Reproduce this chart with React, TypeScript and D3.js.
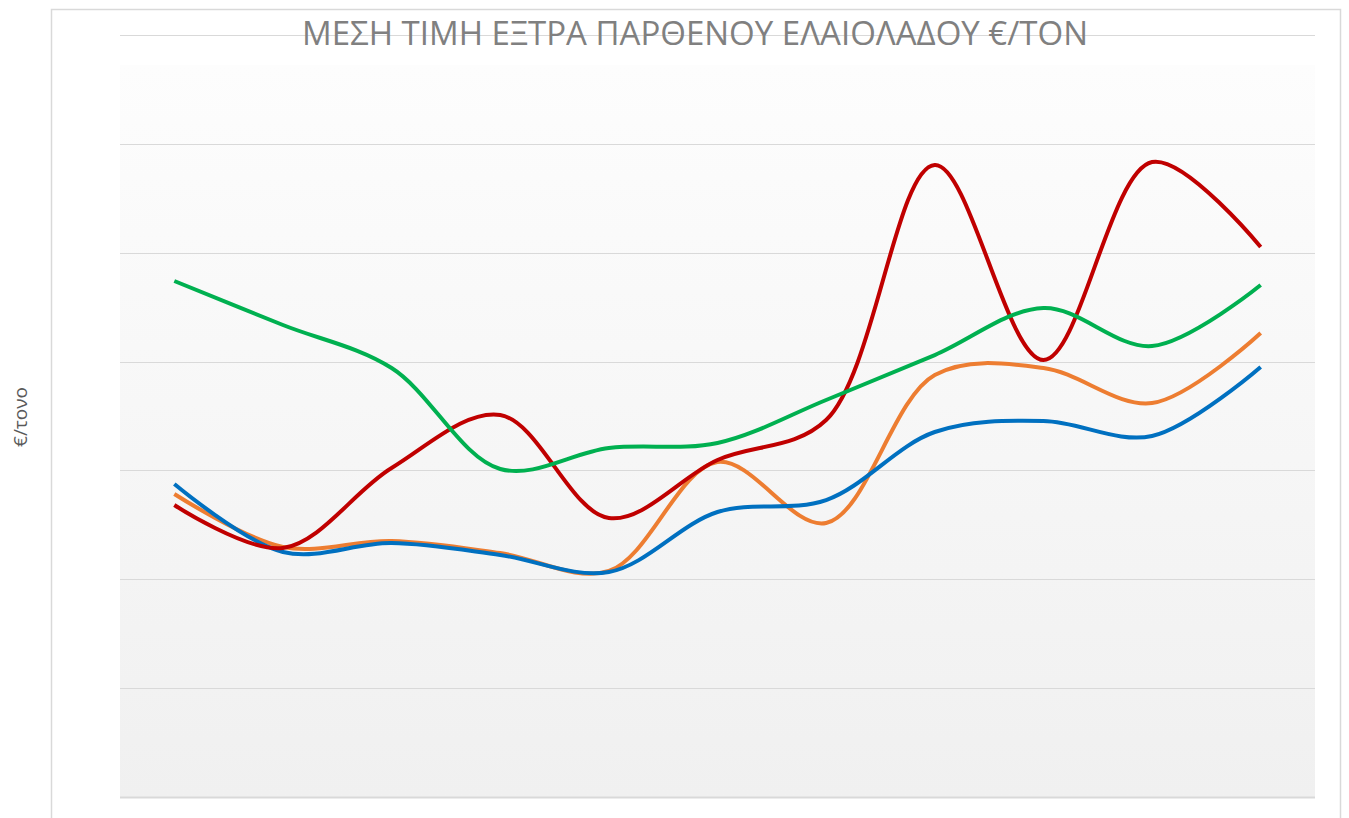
import React, { useRef, useEffect } from 'react';
import * as d3 from 'd3';

// 11 periods, no labels shown on the chart
const periods = ['1', '2', '3', '4', '5', '6', '7', '8', '9', '10', '11'];

// series values, €/τονο
const blueValues = [2875, 2251, 2333, 2223, 2067, 2618, 2728, 3353, 3454, 3316, 3950];
const orangeValues = [2783, 2297, 2352, 2241, 2076, 3077, 2517, 3877, 3941, 3619, 4262];
const redValues = [2682, 2287, 3022, 3509, 2563, 3096, 3463, 5806, 4014, 5833, 5052];
const greenValues = [4740, 4336, 3941, 3013, 3206, 3252, 3647, 4060, 4492, 4143, 4703];

const yTicks = [0, 1000, 2000, 3000, 4000, 5000, 6000, 7000];

const title = 'ΜΕΣΗ ΤΙΜΗ ΕΞΤΡΑ ΠΑΡΘΕΝΟΥ ΕΛΑΙΟΛΑΔΟΥ €/ΤΟΝ';
const yTitle = '€/τονο';

const w = 1349;
const h = 818;
const plot = { left: 120, right: 1315, top: 35, bottom: 797 };

const App = () => {
  const svgRef = useRef<SVGSVGElement>(null);

  useEffect(() => {
    const svg = d3.select(svgRef.current);
    svg.selectAll('*').remove();

    const defs = svg.append('defs');
    const grad = defs.append('linearGradient')
      .attr('id', 'bg')
      .attr('x1', 0).attr('y1', 0).attr('x2', 0).attr('y2', 1);
    grad.append('stop').attr('offset', '0%').attr('stop-color', '#fdfdfd');
    grad.append('stop').attr('offset', '100%').attr('stop-color', '#f0f0f0');

    // chart frame
    svg.append('rect')
      .attr('x', 51.5).attr('y', 9.5)
      .attr('width', 1289).attr('height', 830)
      .attr('fill', '#fff')
      .attr('stroke', '#d9d9d9')
      .attr('stroke-width', 1.5);

    const xScale = d3.scalePoint<string>()
      .domain(periods)
      .range([plot.left, plot.right])
      .padding(0.5);

    const yScale = d3.scaleLinear()
      .domain([0, 7000])
      .range([plot.bottom, plot.top]);

    // plot background
    svg.append('rect')
      .attr('x', plot.left).attr('y', 65)
      .attr('width', plot.right - plot.left)
      .attr('height', plot.bottom - 65)
      .attr('fill', 'url(#bg)');

    // gridlines
    svg.append('g')
      .selectAll('line')
      .data(yTicks)
      .enter()
      .append('line')
      .attr('x1', plot.left)
      .attr('x2', plot.right)
      .attr('y1', d => Math.round(yScale(d)) + 0.5)
      .attr('y2', d => Math.round(yScale(d)) + 0.5)
      .attr('stroke', '#d9d9d9')
      .attr('stroke-width', d => (d === 0 ? 2 : 1));

    const line = d3.line<number>()
      .x((d, i) => xScale(periods[i]) as number)
      .y(d => yScale(d))
      .curve(d3.curveCatmullRom.alpha(0.5));

    const series = [
      { values: orangeValues, color: '#ED7D31' },
      { values: blueValues, color: '#0070C0' },
      { values: redValues, color: '#C00000' },
      { values: greenValues, color: '#00B050' },
    ];

    svg.append('g')
      .selectAll('path')
      .data(series)
      .enter()
      .append('path')
      .attr('d', d => line(d.values))
      .attr('fill', 'none')
      .attr('stroke', d => d.color)
      .attr('stroke-width', 4)
      .attr('stroke-linejoin', 'round');

    // title
    svg.append('text')
      .attr('x', 695)
      .attr('y', 45)
      .attr('text-anchor', 'middle')
      .style('font-family', "'Open Sans', 'Liberation Sans', sans-serif")
      .style('font-size', '33px')
      .attr('fill', '#808080')
      .text(title);

    // y axis title
    svg.append('text')
      .attr('transform', 'translate(27, 417) rotate(-90)')
      .attr('text-anchor', 'middle')
      .style('font-family', "'Open Sans', 'Liberation Sans', sans-serif")
      .style('font-size', '19px')
      .attr('fill', '#595959')
      .text(yTitle);
  }, []);

  return (
    <svg
      ref={svgRef}
      width={w}
      height={h}
      style={{ position: 'absolute', left: 0, top: 0, display: 'block' }}
    />
  );
};

export default App;
